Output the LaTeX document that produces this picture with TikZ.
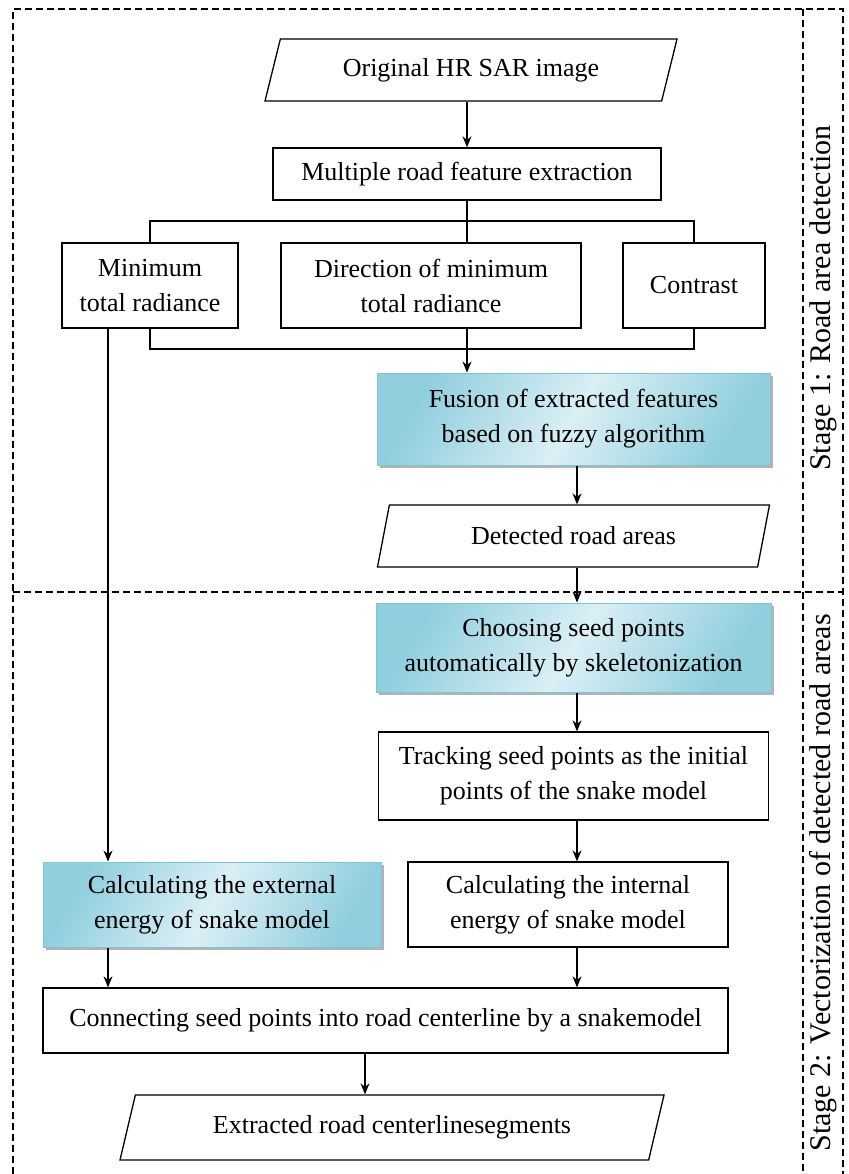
\documentclass[tikz,border=0pt]{standalone}
\usepackage{fontspec}
\setmainfont{Liberation Serif}
\usetikzlibrary{shapes.geometric,shadows,arrows.meta}
\definecolor{boxedge}{RGB}{146,207,222}
\definecolor{boxlight}{RGB}{218,239,245}
\definecolor{boxline}{RGB}{126,195,214}
\tikzset{
  proc/.style={draw, align=center, inner sep=0pt, font=\fontsize{26}{35}\selectfont},
  io/.style={proc, trapezium, trapezium left angle=57, trapezium right angle=123,
    trapezium stretches body=true},
  fuzzy/.style={proc, draw=boxline, line width=1pt, left color=boxedge, right color=boxedge,
    middle color=boxlight, shading angle=60,
    drop shadow={shadow xshift=2.5pt, shadow yshift=-2.5pt, fill=black!50, opacity=.6}},
  stagebox/.style={dash pattern=on 7pt off 4pt},
  stagelabel/.style={rotate=90, font=\fontsize{30}{35}\selectfont},
}
\begin{document}
\begin{tikzpicture}[x=1pt, y=-1pt, line width=1.3pt, >={Stealth[length=11pt,width=9pt]}]
  \useasboundingbox (0,0) rectangle (848,1174);
  % stage frames
  \draw[stagebox] (13,1174) -- (13,9) -- (843,9) -- (843,1174);
  \draw[stagebox] (803,9) -- (803,1174);
  \draw[stagebox] (13,592) -- (843,592);
  \node[stagelabel] (st1) at (823,298) {Stage 1: Road area detection};
  \node[stagelabel] (st2) at (823,883) {Stage 2: Vectorization of detected road areas};
  % stage 1
  \node[io, minimum width=412pt, minimum height=62pt] (orig) at (471,70) {Original HR SAR image};
  \node[proc, minimum width=388pt, minimum height=52pt] (multi) at (467,174) {Multiple road feature extraction};
  \node[proc, minimum width=176pt, minimum height=85pt] (minr) at (150,285.5) {Minimum\\total radiance};
  \node[proc, minimum width=300pt, minimum height=85pt] (dirn) at (431,285.5) {Direction of minimum\\total radiance};
  \node[proc, minimum width=142pt, minimum height=85pt] (contr) at (694,285.5) {Contrast};
  \node[fuzzy, minimum width=393pt, minimum height=92pt] (fusion) at (573.5,419) {Fusion of extracted features\\based on fuzzy algorithm};
  \node[io, minimum width=392pt, minimum height=62pt] (detect) [below of=fusion, node distance=117pt] {Detected road areas};
  % stage 2
  \node[fuzzy, minimum width=395pt, minimum height=89pt] (choose) [below of=detect, node distance=111.5pt] {Choosing seed points\\automatically by skeletonization};
  \node[proc, minimum width=390pt, minimum height=88pt] (track) [below of=choose, node distance=128.5pt] {Tracking seed points as the initial\\points of the snake model};
  \node[proc, minimum width=320pt, minimum height=85pt] (intern) at (568,904.5) {Calculating the internal\\energy of snake model};
  \node[fuzzy, minimum width=338pt, minimum height=85pt] (extern) [left of=intern, node distance=356pt] {Calculating the external\\energy of snake model};
  \node[proc, minimum width=685pt, minimum height=65pt] (connect) at (385.5,1020.5) {Connecting seed points into road centerline by a snakemodel};
  \node[io, minimum width=544pt, minimum height=65pt] (extract) at (392,1127.5) {Extracted road centerlinesegments};
  % connectors
  \coordinate (lft) at (108,0);
  \coordinate (rgt) at (577,0);
  \coordinate (mid) at (365,0);
  \coordinate (splitT) at (0,221);
  \coordinate (splitB) at (0,349);
  \draw[->] (orig.south -| multi.north) -- (multi.north);
  \draw (multi.south) -- (multi.south |- dirn.north);
  \draw (minr.north) |- (contr.north |- splitT) -- (contr.north);
  \draw (minr.south) |- (contr.south |- splitB) -- (contr.south);
  \draw[->] (dirn.south -| multi.south) -- (fusion.north -| multi.south);
  \draw[->] (fusion.south -| rgt) -- (detect.north -| rgt);
  \draw[->] (detect.south -| rgt) -- (choose.north -| rgt);
  \draw[->] (choose.south -| rgt) -- (track.north -| rgt);
  \draw[->] (track.south -| rgt) -- (intern.north -| rgt);
  \draw[->] (minr.south -| lft) -- (extern.north -| lft);
  \draw[->] (extern.south -| lft) -- (connect.north -| lft);
  \draw[->] (intern.south -| rgt) -- (connect.north -| rgt);
  \draw[->] (connect.south -| mid) -- (extract.north -| mid);
\end{tikzpicture}
\end{document}
